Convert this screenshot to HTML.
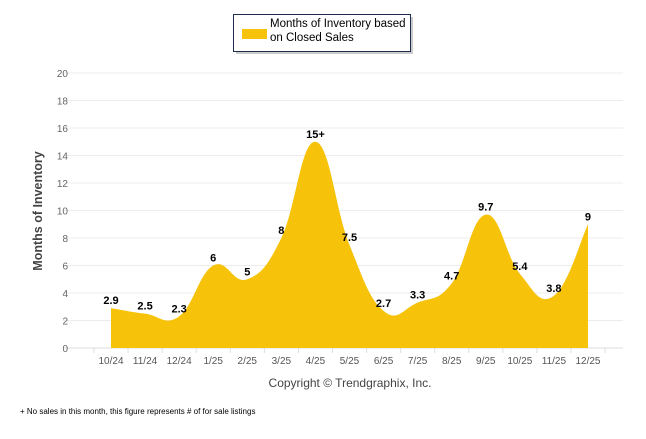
<!DOCTYPE html>
<html><head><meta charset="utf-8"><style>
body{margin:0;background:#fff;}
svg text{font-family:"Liberation Sans",sans-serif;}
</style></head><body>
<svg id="chart" width="646" height="434">
<rect x="236" y="17" width="177" height="37" fill="#999" opacity="0.5"/>
<rect x="233.5" y="14.5" width="177" height="37" fill="#fff" stroke="#1f2d4d"/>
<rect x="242" y="29" width="25" height="10" fill="#f7c30a"/>
<text x="270" y="27" font-size="11.5" fill="#000">Months of Inventory based</text>
<text x="270" y="41" font-size="11.5" fill="#000">on Closed Sales</text>
<g id="grid"></g>
<path id="area" fill="#f7c30a"/>
<g id="labels"></g>
<text transform="translate(42,211) rotate(-90)" text-anchor="middle" font-size="12.5" font-weight="bold" fill="#444">Months of Inventory</text>
<text x="350" y="387" text-anchor="middle" font-size="12" fill="#444">Copyright © Trendgraphix, Inc.</text>
<text x="20" y="414" font-size="8" fill="#000">+  No sales in this month, this figure represents # of for sale listings</text>
</svg>
<script>
const categories=["10/24","11/24","12/24","1/25","2/25","3/25","4/25","5/25","6/25","7/25","8/25","9/25","10/25","11/25","12/25"];
const values=[2.9,2.5,2.3,6,5,8,15,7.5,2.7,3.3,4.7,9.7,5.4,3.8,9];
const valueLabels=["2.9","2.5","2.3","6","5","8","15+","7.5","2.7","3.3","4.7","9.7","5.4","3.8","9"];
const yTicks=[0,2,4,6,8,10,12,14,16,18,20];
const NS="http://www.w3.org/2000/svg";
const x=i=>111+i*34.07;
const y=v=>348-v*13.75;
const grid=document.getElementById('grid'),lab=document.getElementById('labels');
function mk(t,a,p){const e=document.createElementNS(NS,t);for(const k in a)e.setAttribute(k,a[k]);p.appendChild(e);return e;}
yTicks.forEach(t=>{
 const l=mk('line',{x1:63,x2:623,y1:y(t),y2:y(t),stroke:t===0?'#ddd':'#ececec'},grid);
 
 
 const tx=mk('text',{x:68,y:y(t)+4,'text-anchor':'end','font-size':10,fill:'#666'},grid);
 tx.textContent=t;
 
 
});
for(let i=0;i<=categories.length;i++){
 const tk=mk('line',{x1:x(i)-17,x2:x(i)-17,y1:348,y2:353,stroke:'#ddd'},grid);
 
 
}
categories.forEach((c,i)=>{
 const t=mk('text',{x:x(i),y:364,'text-anchor':'middle','font-size':10,fill:'#555'},grid);
 t.textContent=c;
 
 
});
const pts=values.map((v,i)=>[x(i),y(v)]);
let d=`M${pts[0][0]},348 L${pts[0][0]},${pts[0][1]}`;
const s=0.35;
for(let i=0;i<pts.length-1;i++){
 const p0=pts[Math.max(0,i-1)],p1=pts[i],p2=pts[i+1],p3=pts[Math.min(pts.length-1,i+2)];
 const c1=[p1[0]+(p2[0]-p0[0])*s/2*1.2,p1[1]+(p2[1]-p0[1])*s/2*1.2];
 const c2=[p2[0]-(p3[0]-p1[0])*s/2*1.2,p2[1]-(p3[1]-p1[1])*s/2*1.2];
 d+=` C${c1[0]},${c1[1]} ${c2[0]},${c2[1]} ${p2[0]},${p2[1]}`;
}
d+=` L${pts[pts.length-1][0]},348 Z`;
document.getElementById('area').setAttribute('d',d);
values.forEach((v,i)=>{
 const t=mk('text',{x:x(i),y:y(v)-4,'text-anchor':'middle','font-size':11,'font-weight':'bold',fill:'#000'},lab);
 t.textContent=valueLabels[i];
 
 
});
</script>
</body></html>
